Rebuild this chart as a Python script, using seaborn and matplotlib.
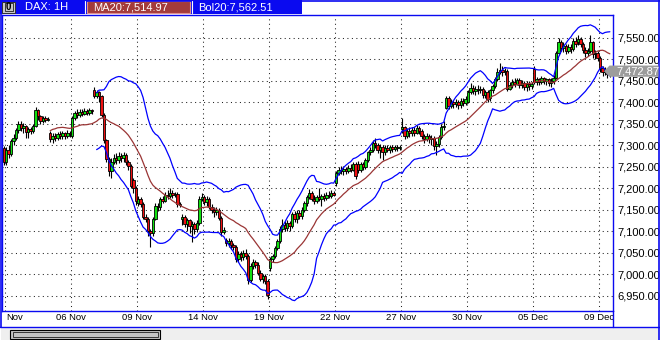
import numpy as np
import pandas as pd
import matplotlib
matplotlib.use("Agg")
import matplotlib.pyplot as plt
import seaborn as sns
from matplotlib.patches import Rectangle, Polygon
from matplotlib.lines import Line2D
from matplotlib import font_manager

sns.set_style("white")
_names = {f.name for f in font_manager.fontManager.ttflist}
NARROW = "Liberation Sans Narrow" in _names
plt.rcParams["font.family"] = ["Liberation Sans", "DejaVu Sans"]

# ---------------- data (hourly DAX bars, one row of 9 bars per trading day) -------------
opens = [7294,
    7262, 7290, 7280, 7310, 7318, 7336, 7350, 7340, 7345,
    7332, 7338, 7334, 7346, 7382, 7368, 7358, 7364, 7360,
    7330, 7314, 7322, 7318, 7326, 7322, 7328, 7322, 7330,
    7322, 7364, 7376, 7370, 7378, 7374, 7380, 7376, 7382,
    7430, 7415, 7424, 7414, 7372, 7312, 7268, 7240, 7262,
    7272, 7266, 7276, 7270, 7278, 7262, 7252, 7220, 7202,
    7166, 7176, 7165, 7134, 7130, 7100, 7097, 7130, 7160,
    7156, 7176, 7172, 7186, 7182, 7190, 7186, 7188, 7164,
    7128, 7134, 7118, 7126, 7112, 7118, 7106, 7120, 7176,
    7180, 7168, 7176, 7158, 7150, 7146, 7150, 7132, 7098,
    7080, 7074, 7078, 7068, 7064, 7036, 7048, 7040, 7050,
    7044, 6988, 7020, 7028, 7022, 7004, 6990, 6996, 6986,
    7016, 7036, 7042, 7062, 7078, 7106, 7116, 7108, 7120,
    7112, 7140, 7128, 7144, 7136, 7150, 7166, 7180, 7190,
    7176, 7172, 7180, 7176, 7182, 7178, 7186, 7182, 7190,
    7212, 7236, 7244, 7240, 7246, 7240, 7248, 7244, 7258,
    7258, 7242, 7256, 7250, 7266, 7284, 7290, 7306, 7300,
    7290, 7296, 7284, 7294, 7290, 7296, 7292, 7296, 7294,
    7338, 7342, 7322, 7334, 7328, 7336, 7330, 7340, 7334,
    7322, 7316, 7322, 7314, 7318, 7298, 7304, 7320, 7342,
    7388, 7410, 7392, 7400, 7396, 7402, 7394, 7404, 7398,
    7402, 7424, 7434, 7426, 7432, 7428, 7432, 7418, 7424,
    7410, 7428, 7438, 7454, 7472, 7476, 7470, 7474, 7432,
    7440, 7448, 7444, 7452, 7440, 7446, 7436, 7444, 7438,
    7478, 7448, 7454, 7448, 7456, 7450, 7454, 7446, 7450,
    7458, 7516, 7540, 7526, 7532, 7520, 7530, 7524, 7544,
    7540, 7548, 7536, 7522, 7516, 7520, 7540, 7512, 7516,
    7504, 7480, 7470, 7476, 7466]

highs = [7298,
    7296, 7300, 7316, 7326, 7340, 7358, 7356, 7352, 7348,
    7344, 7342, 7350, 7390, 7386, 7372, 7368, 7368, 7366,
    7334, 7330, 7328, 7332, 7334, 7334, 7332, 7336, 7334,
    7368, 7380, 7386, 7384, 7384, 7388, 7384, 7388, 7386,
    7436, 7428, 7426, 7418, 7376, 7316, 7274, 7270, 7280,
    7282, 7284, 7282, 7284, 7282, 7266, 7256, 7224, 7206,
    7182, 7180, 7168, 7140, 7134, 7106, 7134, 7166, 7166,
    7180, 7182, 7192, 7196, 7200, 7196, 7192, 7192, 7168,
    7140, 7138, 7132, 7130, 7124, 7122, 7126, 7182, 7190,
    7184, 7182, 7180, 7164, 7156, 7156, 7154, 7136, 7110,
    7086, 7084, 7082, 7074, 7068, 7054, 7054, 7058, 7060,
    7048, 7026, 7036, 7034, 7028, 7010, 7002, 7000, 6990,
    7040, 7048, 7066, 7082, 7112, 7130, 7124, 7126, 7124,
    7146, 7148, 7150, 7150, 7156, 7170, 7186, 7198, 7194,
    7186, 7186, 7200, 7188, 7190, 7192, 7194, 7196, 7194,
    7240, 7250, 7252, 7252, 7250, 7254, 7256, 7262, 7262,
    7264, 7262, 7262, 7270, 7288, 7296, 7312, 7318, 7306,
    7304, 7300, 7300, 7300, 7302, 7300, 7302, 7300, 7300,
    7364, 7346, 7340, 7342, 7344, 7342, 7348, 7346, 7338,
    7326, 7330, 7326, 7324, 7322, 7310, 7324, 7350, 7358,
    7414, 7414, 7408, 7406, 7408, 7406, 7410, 7410, 7414,
    7428, 7446, 7440, 7438, 7440, 7438, 7436, 7430, 7428,
    7432, 7442, 7460, 7480, 7492, 7484, 7480, 7478, 7448,
    7454, 7456, 7458, 7458, 7452, 7450, 7450, 7450, 7448,
    7484, 7460, 7458, 7462, 7460, 7458, 7458, 7456, 7464,
    7520, 7550, 7546, 7540, 7536, 7536, 7536, 7550, 7552,
    7556, 7552, 7540, 7528, 7526, 7556, 7544, 7522, 7520,
    7508, 7486, 7482, 7480, 7478]

lows = [7255,
    7255, 7270, 7276, 7300, 7312, 7330, 7334, 7330, 7318,
    7318, 7326, 7330, 7344, 7360, 7350, 7352, 7354, 7356,
    7308, 7306, 7310, 7312, 7314, 7316, 7316, 7318, 7320,
    7318, 7360, 7364, 7366, 7368, 7370, 7370, 7372, 7374,
    7410, 7410, 7402, 7366, 7306, 7262, 7228, 7224, 7256,
    7258, 7260, 7262, 7262, 7254, 7244, 7200, 7190, 7162,
    7160, 7158, 7128, 7122, 7090, 7064, 7090, 7126, 7148,
    7150, 7166, 7168, 7176, 7178, 7178, 7180, 7158, 7156,
    7116, 7110, 7100, 7096, 7076, 7094, 7098, 7116, 7170,
    7162, 7160, 7152, 7142, 7134, 7138, 7126, 7090, 7094,
    7066, 7064, 7060, 7056, 7030, 7030, 7032, 7034, 7036,
    6978, 6982, 7012, 7014, 6998, 6984, 6980, 6978, 6944,
    7008, 7030, 7038, 7056, 7074, 7098, 7100, 7102, 7100,
    7108, 7122, 7120, 7130, 7130, 7146, 7160, 7176, 7170,
    7164, 7166, 7170, 7160, 7172, 7174, 7178, 7178, 7182,
    7206, 7232, 7234, 7232, 7234, 7236, 7238, 7240, 7222,
    7236, 7238, 7244, 7246, 7262, 7278, 7286, 7294, 7282,
    7270, 7266, 7278, 7284, 7282, 7286, 7288, 7288, 7290,
    7330, 7316, 7318, 7320, 7322, 7322, 7326, 7326, 7316,
    7306, 7310, 7306, 7300, 7290, 7278, 7296, 7316, 7336,
    7384, 7386, 7388, 7388, 7390, 7386, 7388, 7392, 7394,
    7398, 7420, 7420, 7418, 7420, 7422, 7410, 7410, 7402,
    7404, 7422, 7434, 7450, 7466, 7462, 7464, 7426, 7428,
    7434, 7436, 7440, 7434, 7434, 7430, 7426, 7430, 7432,
    7442, 7440, 7440, 7442, 7444, 7440, 7438, 7436, 7444,
    7454, 7510, 7520, 7518, 7512, 7514, 7516, 7520, 7530,
    7534, 7530, 7516, 7506, 7508, 7514, 7504, 7500, 7496,
    7472, 7462, 7464, 7458, 7460]

closes = [7262,
    7290, 7280, 7310, 7318, 7336, 7350, 7340, 7345, 7332,
    7338, 7334, 7346, 7382, 7368, 7358, 7364, 7360, 7362,
    7314, 7322, 7318, 7326, 7322, 7328, 7322, 7330, 7326,
    7364, 7376, 7370, 7378, 7374, 7380, 7376, 7382, 7380,
    7415, 7424, 7414, 7372, 7312, 7268, 7240, 7262, 7272,
    7266, 7276, 7270, 7278, 7262, 7252, 7206, 7202, 7170,
    7176, 7165, 7134, 7130, 7100, 7097, 7130, 7160, 7156,
    7176, 7172, 7186, 7182, 7190, 7186, 7188, 7164, 7162,
    7134, 7118, 7126, 7112, 7118, 7106, 7120, 7176, 7180,
    7168, 7176, 7158, 7150, 7146, 7150, 7132, 7098, 7104,
    7074, 7078, 7068, 7064, 7036, 7048, 7040, 7050, 7044,
    6988, 7020, 7028, 7022, 7004, 6990, 6996, 6986, 6952,
    7036, 7042, 7062, 7078, 7106, 7116, 7108, 7120, 7112,
    7140, 7128, 7144, 7136, 7150, 7166, 7180, 7190, 7176,
    7172, 7180, 7176, 7182, 7178, 7186, 7182, 7190, 7186,
    7236, 7244, 7240, 7246, 7240, 7248, 7244, 7258, 7228,
    7242, 7256, 7250, 7266, 7284, 7290, 7306, 7300, 7290,
    7296, 7284, 7294, 7290, 7296, 7292, 7296, 7294, 7296,
    7342, 7322, 7334, 7328, 7336, 7330, 7340, 7334, 7322,
    7316, 7322, 7314, 7318, 7298, 7304, 7320, 7342, 7346,
    7410, 7392, 7400, 7396, 7402, 7394, 7404, 7398, 7408,
    7424, 7434, 7426, 7432, 7428, 7432, 7418, 7424, 7408,
    7428, 7438, 7454, 7472, 7476, 7470, 7474, 7432, 7440,
    7448, 7444, 7452, 7440, 7446, 7436, 7444, 7438, 7442,
    7448, 7454, 7448, 7456, 7450, 7454, 7446, 7450, 7458,
    7516, 7540, 7526, 7532, 7520, 7530, 7524, 7544, 7536,
    7548, 7536, 7522, 7516, 7520, 7540, 7512, 7516, 7504,
    7480, 7470, 7476, 7466, 7472.87]

date_labels = ["Nov", "06 Nov", "09 Nov", "14 Nov", "19 Nov", "22 Nov",
               "27 Nov", "30 Nov", "05 Dec", "09 Dec"]
price_ticks = list(range(6950, 7551, 50))
symbol = "DAX: 1H"
ma_value = 7514.97
bol_value = 7562.51
last_price = closes[-1]

# ---------------- indicators (computed from closes) ----------------
df = pd.DataFrame({"bar": np.arange(len(closes)), "open": opens, "high": highs,
                   "low": lows, "close": closes})
df["ma"] = df["close"].rolling(20).mean()
sd = df["close"].rolling(20).std(ddof=0)
df["upper"] = df["ma"] + 2 * sd
df["lower"] = df["ma"] - 2 * sd
df.loc[df["bar"] < 38, ["upper", "lower"]] = np.nan

# ---------------- figure ----------------
W, H = 660, 340
fig = plt.figure(figsize=(W / 100, H / 100), dpi=100)
fig.patch.set_facecolor("white")


def fx(x):
    return x / W


def fy(y):
    return 1 - y / H


def rect(x0, y0, x1, y1, **kw):
    fig.patches.append(Rectangle((fx(x0), fy(y1)), fx(x1) - fx(x0), fy(y0) - fy(y1),
                                 transform=fig.transFigure, **kw))


def hline(x0, x1, y, **kw):
    fig.lines.append(Line2D([fx(x0), fx(x1)], [fy(y), fy(y)], transform=fig.transFigure, **kw))


def vline(x, y0, y1, **kw):
    fig.lines.append(Line2D([fx(x), fx(x)], [fy(y0), fy(y1)], transform=fig.transFigure, **kw))


BLUE = "#0a0af0"
AX_L, AX_R, AX_T, AX_B = 1.5, 612.5, 15, 311
ax = fig.add_axes([fx(AX_L), fy(AX_B), fx(AX_R) - fx(AX_L), (AX_B - AX_T) / H])
ax.set_facecolor("white")

# bar i sits at pixel 3.76 + 2.444*i
px0, dpx = 3.76, 2.444
ax.set_xlim((AX_L - px0) / dpx, (AX_R - px0) / dpx)
# price p sits at pixel 38 + (7550 - p) * 0.43
ax.set_ylim(7550 - (AX_B - 38) / 0.43, 7550 + (38 - AX_T) / 0.43)

dot = (0, (1, 3.3))
for p in price_ticks:
    ax.axhline(p, color="#222222", lw=0.75, ls=dot, zorder=0)
grid_x = [0.5 + 27 * k for k in range(len(date_labels))]
for g in grid_x:
    ax.axvline(g, color="#222222", lw=0.75, ls=dot, zorder=0)

# candles
up = df["close"] >= df["open"]
ax.vlines(df["bar"], df["low"], df["high"], color="black", lw=0.8, zorder=2)
body_h = (df["close"] - df["open"]).abs().clip(lower=2.0)
body_b = df[["open", "close"]].min(axis=1)
ax.bar(df["bar"], body_h, bottom=body_b, width=1.0,
       color=np.where(up, "#10e010", "#ee1010"), edgecolor="black", linewidth=0.6, zorder=3)

# indicators via seaborn
sns.lineplot(data=df, x="bar", y="ma", color="#9a3535", lw=0.9, ax=ax, zorder=4)
sns.lineplot(data=df, x="bar", y="upper", color="#0000ff", lw=0.9, ax=ax, zorder=4)
sns.lineplot(data=df, x="bar", y="lower", color="#0000ff", lw=0.9, ax=ax, zorder=4)
ax.set_xlabel("")
ax.set_ylabel("")

for s in ax.spines.values():
    s.set_color(BLUE)
    s.set_linewidth(1.0)

ax.yaxis.tick_right()
ax.set_yticks(price_ticks, [f"{v:,.2f}" for v in price_ticks])
ax.tick_params(axis="y", length=0, pad=3.3, labelsize=8, labelcolor="black")

label_pos = [(15 - px0) / dpx] + grid_x[1:]
ax.set_xticks(label_pos, date_labels)
if NARROW:
    ax.tick_params(axis="x", length=0, pad=1.6, labelsize=8, labelcolor="black")
    for t in ax.get_xticklabels():
        t.set_family(["Liberation Sans Narrow", "Liberation Sans"])
else:
    ax.tick_params(axis="x", length=0, pad=1.6, labelsize=6.8, labelcolor="black")

# white panel right of the date strip (cuts the last date label like the reference)
rect(AX_R + 0.6, AX_B + 1, 658.6, 326.4, facecolor="white", edgecolor="none", zorder=2)

# ---------------- header bar ----------------
rect(0, 0, 302, 14, facecolor=BLUE, edgecolor="none")
hline(0, 660, 0.5, color=BLUE, lw=1.2)
vline(659.3, 0, 340, color=BLUE, lw=1.2, zorder=3)
vline(0.5, 0, 327, color=BLUE, lw=1.2)
rect(2, 1.5, 15, 12.5, facecolor="#c8c8c8", edgecolor="#303030", lw=0.7)
rect(4.5, 3, 12.5, 11, facecolor="none", edgecolor="#000000", lw=0.5)
fig.text(fx(8.5), fy(7.2), "0", color="black", fontsize=7, fontweight="bold",
         ha="center", va="center")
fig.text(fx(25), fy(7.3), symbol, color="white", fontsize=8, ha="left", va="center")
vline(85, 1, 13, color="white", lw=0.8)
rect(87, 1, 190, 13, facecolor="#a33b3b", edgecolor="#e29090", lw=0.8)
fig.text(fx(93), fy(7.3), f"MA20:{ma_value:,.2f}", color="white", fontsize=8,
         ha="left", va="center")
vline(191.5, 1, 13, color="white", lw=0.8)
fig.text(fx(198), fy(7.3), f"Bol20:{bol_value:,.2f}", color="white", fontsize=8,
         ha="left", va="center")

# ---------------- last price tag ----------------
ty = 38 + (7550 - last_price) * 0.43
tag = [(604, ty), (609.5, ty - 5.6), (658.5, ty - 5.6), (658.5, ty + 5.6), (609.5, ty + 5.6)]
fig.patches.append(Polygon([(fx(a), fy(b)) for a, b in tag], closed=True,
                           transform=fig.transFigure, facecolor="#9c9c9c", edgecolor="none",
                           zorder=5))
fig.text(fx(616.5), fy(ty), f"{last_price:,.2f}", color="white", fontsize=8,
         ha="left", va="center", zorder=6)

# ---------------- bottom bar / scrollbar ----------------
vline(AX_R, AX_B, 327, color=BLUE, lw=1.0, zorder=3)
rect(1, 327.5, 659, 340, facecolor="#efefef", edgecolor="none")
hline(0, 660, 327, color=BLUE, lw=1.0, zorder=3)
rect(10.5, 330, 160, 338.5, facecolor="#c4c4c4", edgecolor="black", lw=0.8)
rect(12.5, 331.5, 158, 337, facecolor="none", edgecolor="#202020", lw=0.6)

fig.savefig("out.png", dpi=100, facecolor="white")
